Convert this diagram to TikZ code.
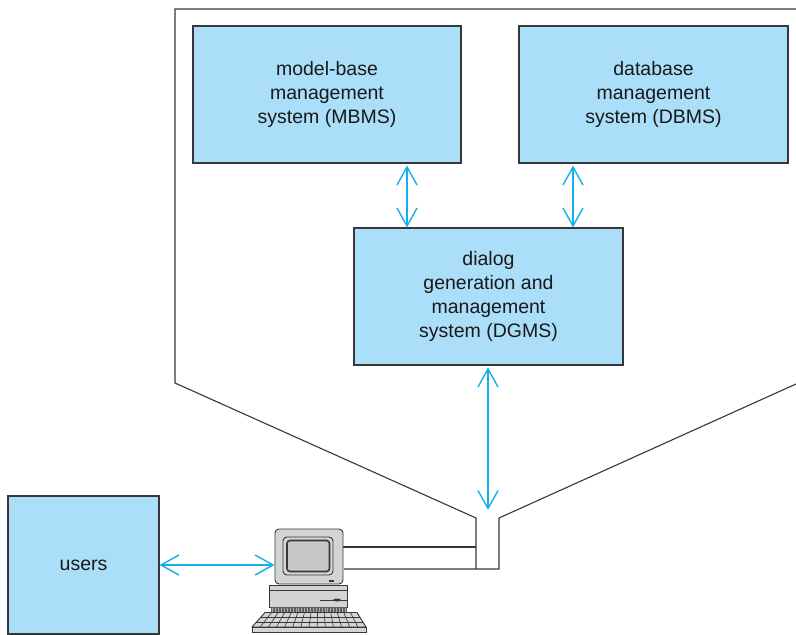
\documentclass[tikz,border=0pt]{standalone}
\usepackage{fontspec}
\setmainfont{Liberation Sans}
\usetikzlibrary{arrows.meta}
\definecolor{boxfill}{RGB}{171,223,249}
\definecolor{flow}{RGB}{18,176,236}
\definecolor{ink}{RGB}{55,55,55}
\definecolor{casing}{RGB}{212,212,212}
\definecolor{screengray}{RGB}{200,200,200}
\begin{document}
\begin{tikzpicture}[x=1pt,y=-1pt,
  sysbox/.style={draw=ink,line width=1.1pt,fill=boxfill,inner sep=0pt,
    align=center,font=\fontsize{19.5}{24}\selectfont,text=black!90},
  link/.style={draw=flow,line width=1.4pt,
    arrows={Straight Barb[length=18pt,width=20pt]-Straight Barb[length=18pt,width=20pt]}},
  wall/.style={draw=ink,line width=1.1pt,line join=miter},
  part/.style={draw=ink,line width=0.9pt}]
\useasboundingbox (0,0) rectangle (796,635);

% enclosure of the decision support system, narrowing into the cable
\draw[wall] (796,9) -- (175,9) -- (175,383) -- (476,518) -- (476,569);
\draw[wall] (796,384) -- (499,518) -- (499,569) -- (344,569);
\draw[wall] (343,547) -- (476,547);

% subsystems
\node[sysbox,minimum width=268pt,minimum height=137pt] (mbms) at (327,94.5)
  {model-base\\management\\system (MBMS)};
\node[sysbox,minimum width=269pt,minimum height=137pt] (dbms) at (653.5,94.5)
  {database\\management\\system (DBMS)};
\node[sysbox,minimum width=269pt,minimum height=137pt] (dgms) at (488.5,296.5)
  {dialog\\generation and\\management\\system (DGMS)};
\node[sysbox,minimum width=151pt,minimum height=138pt] (users) at (83.5,565)
  {users};

% terminal: monitor
\node[part,fill=casing,rounded corners=4pt,minimum width=68pt,minimum height=55pt,
  inner sep=0pt] (monitor) at (309,556.5) {};
\draw[part,fill=casing,rounded corners=4pt] (283,537) rectangle (333,575);
\draw[draw=ink,line width=1.6pt,fill=screengray,rounded corners=3pt] (287,540.5) rectangle (329.5,571.5);
\draw[ink,line width=1.4pt] (329,581) -- (334,581);
% terminal: system unit
\draw[part,fill=casing] (269,585) rectangle (347,607);
\draw[part] (269,590) -- (347,590);
\draw[part] (320,600) -- (347,600);
\fill[ink] (337,600) ellipse (4pt and 1.5pt);
\fill[ink!80] (271,607) rectangle (347,612.5);
\foreach \i in {0,...,25} \draw[white!60!ink,line width=0.4pt] (272.5+\i*2.9,607.5) -- (272.5+\i*2.9,612);
% terminal: keyboard
\draw[part,fill=casing] (265,612.5) -- (357,612.5) -- (366,627) -- (252,627) -- cycle;
\draw[part,fill=casing] (252,627) rectangle (366,632.5);
\foreach \t in {0.33,0.66} \draw[part,line width=0.6pt] (265-13*\t,612.5+14.5*\t) -- (357+9*\t,612.5+14.5*\t);
\foreach \i in {1,...,13} \draw[part,line width=0.6pt] (265+\i*92/14,612.5) -- (252+\i*114/14,627);

% connectors
\draw[link,shorten <=2pt] (mbms.south -| 407,0) -- (dgms.north -| 407,0);
\draw[link,shorten <=2pt] (dbms.south -| 573,0) -- (dgms.north -| 573,0);
\coordinate (neck) at (488,510);
\draw[link,shorten <=2pt] (dgms.south -| neck) -- (neck);
\draw[link] (users.east) -- (users.east -| monitor.west);
\end{tikzpicture}
\end{document}
